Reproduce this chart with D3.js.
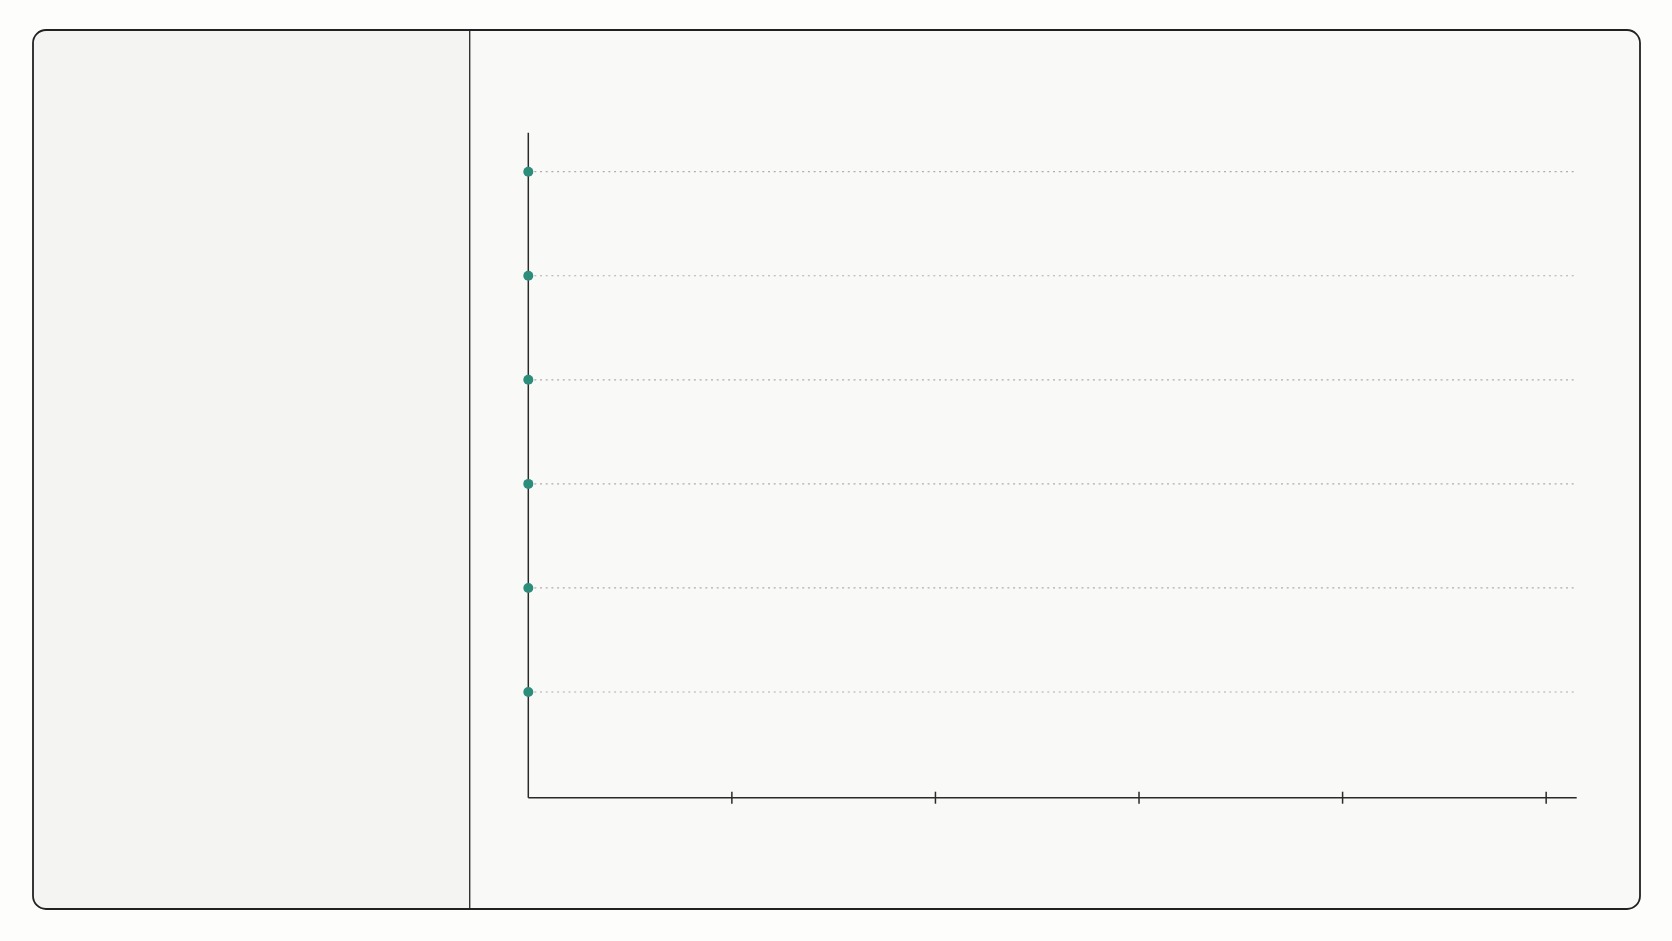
<!DOCTYPE html>
<html>
<head>
  <meta charset="utf-8">
  <script src="https://cdn.jsdelivr.net/npm/d3@7/dist/d3.min.js"></script>
  <title>Lollipop</title>
  <style>
    html, body { margin: 0; padding: 0; background: #fdfdfc; }
    svg { display: block; font-family: "DejaVu Sans", sans-serif; }
    .x-axis path, .x-axis line { stroke: #2a2a2a; stroke-width: 1.5px; }
    .guide { stroke: #aeaeab; stroke-width: 1.2px; stroke-dasharray: 2 3.7; }
  </style>
</head>
<body>
<svg id="chart" width="1672" height="941"></svg>
<script>
  // data
  var categories = ["A", "B", "C", "D", "E", "F"];
  var values = [0, 0, 0, 0, 0, 0];
  var xTicks = [1, 2, 3, 4, 5];
  var xMax = 5.15;

  var card = {x: 33, y: 30, w: 1607, h: 879};
  var splitX = 469.7;
  var plot = {left: 528.3, right: 1576.7, top: 132.7, bottom: 797.7};

  var svg = d3.select("#chart");

  // card
  svg.append("rect")
    .attr("x", card.x).attr("y", card.y)
    .attr("width", card.w).attr("height", card.h)
    .attr("rx", 13)
    .attr("fill", "#f9f9f8");

  // left panel, clipped to the rounded card
  svg.append("clipPath").attr("id", "cardclip")
    .append("rect")
    .attr("x", card.x).attr("y", card.y)
    .attr("width", card.w).attr("height", card.h)
    .attr("rx", 13);
  svg.append("rect")
    .attr("clip-path", "url(#cardclip)")
    .attr("x", card.x).attr("y", card.y)
    .attr("width", splitX - card.x).attr("height", card.h)
    .attr("fill", "#f4f5f3");
  svg.append("line")
    .attr("x1", splitX).attr("x2", splitX)
    .attr("y1", card.y).attr("y2", card.y + card.h)
    .attr("stroke", "#333").attr("stroke-width", 1.4);

  svg.append("rect")
    .attr("x", card.x).attr("y", card.y)
    .attr("width", card.w).attr("height", card.h)
    .attr("rx", 13)
    .attr("fill", "none")
    .attr("stroke", "#222").attr("stroke-width", 1.8);

  // scales
  var x = d3.scaleLinear().domain([0, xMax]).range([plot.left, plot.right]);
  var y = d3.scalePoint().domain(categories).range([plot.top + 39, plot.bottom - 105.7]);

  // guides
  svg.append("g").selectAll("line")
    .data(categories)
    .join("line")
    .attr("class", "guide")
    .attr("x1", x(0) + 6).attr("x2", x(xMax))
    .attr("y1", function(d) { return y(d); })
    .attr("y2", function(d) { return y(d); });

  // axes
  svg.append("g")
    .attr("class", "x-axis")
    .attr("transform", "translate(0," + plot.bottom + ")")
    .call(d3.axisBottom(x).tickValues(xTicks).tickFormat("").tickSizeOuter(0).offset(0))
    .selectAll(".tick line").attr("y1", -6).attr("y2", 6);

  svg.append("line")
    .attr("x1", plot.left).attr("x2", plot.left)
    .attr("y1", plot.top).attr("y2", plot.bottom)
    .attr("stroke", "#2a2a2a").attr("stroke-width", 1.5);

  // dots
  svg.append("g").selectAll("circle")
    .data(values)
    .join("circle")
    .attr("cx", function(d) { return x(d); })
    .attr("cy", function(d, i) { return y(categories[i]); })
    .attr("r", 5)
    .attr("fill", "#2c8d7a");
</script>
</body>
</html>
